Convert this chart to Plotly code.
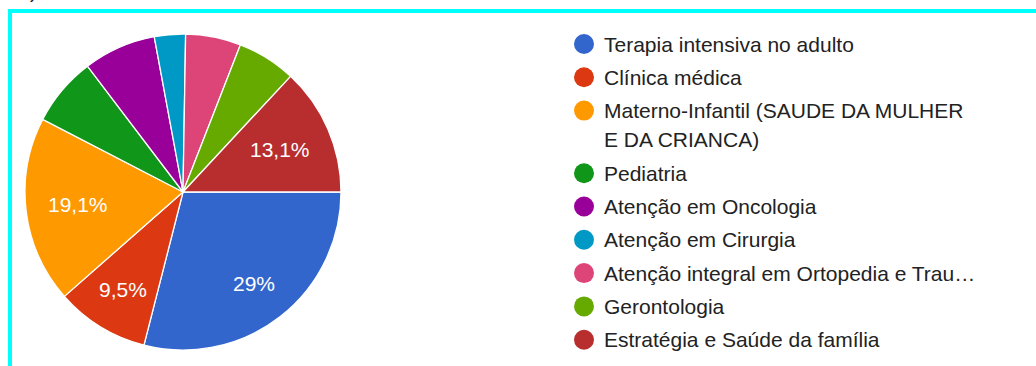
import math
import plotly.graph_objects as go

# Responses per area of interest
labels = [
    "Terapia intensiva no adulto",
    "Clínica médica",
    "Materno-Infantil (SAUDE DA MULHER<br>E DA CRIANCA)",
    "Pediatria",
    "Atenção em Oncologia",
    "Atenção em Cirurgia",
    "Atenção integral em Ortopedia e Trau…",
    "Gerontologia",
    "Estratégia e Saúde da família",
]
counts = [82, 27, 54, 20, 21, 9, 16, 17, 37]
colors = ["#3366cc", "#dc3912", "#ff9900", "#109618", "#990099",
          "#0099c6", "#dd4477", "#66aa00", "#b82e2e"]

W, H = 1036, 366
FONT = "Arial, Liberation Sans, sans-serif"
FS = 21

total = sum(counts)


def pct_text(v):
    p = round(v / total * 100, 1)
    s = f"{p:.1f}".replace(".", ",")
    if s.endswith(",0"):
        s = s[:-2]
    return s + "%"


# pie geometry (pixels)
cx, cy, r = 183, 192, 158
start_deg = 90  # first slice starts at 3 o'clock, clockwise

fig = go.Figure()
fig.add_trace(go.Pie(
    labels=labels,
    values=counts,
    textinfo="none",
    marker=dict(colors=colors, line=dict(color="white", width=1.3)),
    sort=False,
    direction="clockwise",
    rotation=start_deg,
    showlegend=False,
    domain=dict(x=[(cx - r) / W, (cx + r) / W],
                y=[1 - (cy + r) / H, 1 - (cy - r) / H]),
))

# approximate Arial advance widths (em) for the percentage strings
ADV = {d: 0.556 for d in "0123456789"}
ADV.update({",": 0.278, "%": 0.889})

annotations = []

# percentage labels on slices of at least 9%, text box kept inside the rim
cum = 0
for v in counts:
    mid = math.radians(start_deg + (cum + v / 2) / total * 360)
    cum += v
    if v / total < 0.09:
        continue
    txt = pct_text(v)
    hw = sum(ADV.get(ch, 0.556) for ch in txt) * FS / 2
    hh = 10
    ux, uy = math.sin(mid), -math.cos(mid)
    c = (math.copysign(hw, ux), math.copysign(hh, uy))
    uc = ux * c[0] + uy * c[1]
    rim = 0.865 * r
    t = -uc + math.sqrt(uc * uc - (c[0] ** 2 + c[1] ** 2) + rim * rim)
    annotations.append(dict(
        x=cx + t * ux, y=cy + t * uy, xref="x", yref="y",
        text=txt, showarrow=False, xanchor="center", yanchor="middle",
        font=dict(family=FONT, size=FS, color="white"),
    ))

# legend: coloured dots with names, laid out in pixel space
leg_x, leg_y0, row_h, wrap_h = 584, 44, 33.3, 29.3
dot_y = []
y = leg_y0
for lab in labels:
    dot_y.append(y)
    y += row_h + wrap_h * (len(lab.split("<br>")) - 1)

fig.add_trace(go.Scatter(
    x=[leg_x] * len(labels), y=dot_y, mode="markers",
    marker=dict(size=20, color=colors, line=dict(width=0)),
    hoverinfo="skip", showlegend=False, xaxis="x", yaxis="y",
))

for lab, yy in zip(labels, dot_y):
    for i, line in enumerate(lab.split("<br>")):
        annotations.append(dict(
            x=leg_x + 18, y=yy + i * wrap_h, xref="x", yref="y",
            text=line, showarrow=False, xanchor="left", yanchor="middle",
            font=dict(family=FONT, size=FS, color="#222222"),
        ))

# closing parenthesis of the line above, cut by the top edge
annotations.append(dict(
    x=33, y=4, xref="x", yref="y", text=")", showarrow=False,
    xanchor="center", yanchor="bottom",
    font=dict(family=FONT, size=FS, color="#222222"),
))

fig.update_layout(
    width=W, height=H,
    margin=dict(l=0, r=0, t=0, b=0),
    paper_bgcolor="white", plot_bgcolor="rgba(0,0,0,0)",
    xaxis=dict(range=[0, W], visible=False, fixedrange=True, domain=[0, 1]),
    yaxis=dict(range=[H, 0], visible=False, fixedrange=True, domain=[0, 1]),
    annotations=annotations,
    shapes=[
        # cyan frame around the chart card
        dict(type="line", xref="x", yref="y", x0=8, x1=W + 5, y0=11, y1=11,
             line=dict(color="#00ffff", width=4)),
        dict(type="line", xref="x", yref="y", x0=10, x1=10, y0=9, y1=H + 5,
             line=dict(color="#00ffff", width=4)),
    ],
)

fig.write_html("out.html")
